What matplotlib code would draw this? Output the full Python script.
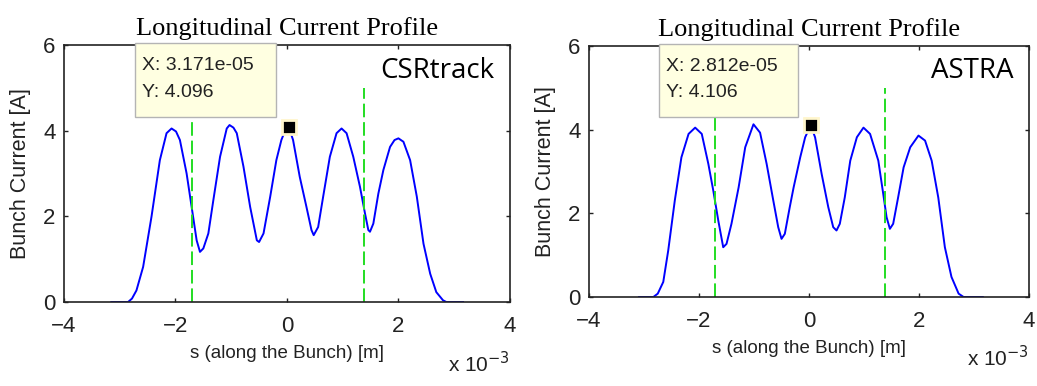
import numpy as np
import matplotlib.pyplot as plt
from matplotlib.patches import Rectangle

# ---- data (s in units of 1e-3 m, current in A) ----
s_csr = [-3.15, -2.85, -2.78, -2.70, -2.58, -2.43, -2.28, -2.16, -2.07, -1.99, -1.92, -1.80,
         -1.71, -1.62, -1.56, -1.50, -1.41, -1.32, -1.20, -1.08, -1.03, -0.96, -0.90, -0.78,
         -0.66, -0.54, -0.50, -0.42, -0.30, -0.19, -0.10, -0.04, 0.03, 0.11, 0.23, 0.35,
         0.44, 0.48, 0.56, 0.65, 0.77, 0.89, 0.98, 1.07, 1.19, 1.31, 1.40, 1.46, 1.49,
         1.55, 1.64, 1.73, 1.85, 1.93, 2.00, 2.09, 2.21, 2.33, 2.45, 2.57, 2.68, 2.80,
         2.86, 3.16]
i_csr = [0.0, 0.0, 0.08, 0.27, 0.82, 1.99, 3.31, 3.94, 4.05, 3.98, 3.78, 3.00,
         2.22, 1.44, 1.17, 1.25, 1.60, 2.38, 3.39, 4.05, 4.13, 4.07, 3.94, 3.16,
         2.22, 1.44, 1.40, 1.60, 2.46, 3.31, 3.78, 3.98, 4.096, 3.78, 2.92, 2.22,
         1.68, 1.56, 1.75, 2.46, 3.39, 3.94, 4.05, 3.94, 3.39, 2.69, 2.07, 1.68, 1.64,
         1.83, 2.53, 3.08, 3.62, 3.78, 3.82, 3.74, 3.31, 2.46, 1.36, 0.66, 0.23, 0.04,
         0.0, 0.0]

s_astra = [-3.09, -2.83, -2.75, -2.65, -2.56, -2.44, -2.32, -2.19, -2.07, -1.95, -1.83, -1.74,
           -1.65, -1.56, -1.50, -1.41, -1.28, -1.16, -1.01, -0.89, -0.77, -0.65, -0.56, -0.50,
           -0.44, -0.35, -0.28, -0.16, -0.07, 0.03, 0.11, 0.23, 0.35, 0.44, 0.50, 0.56,
           0.65, 0.75, 0.87, 0.99, 1.11, 1.26, 1.35, 1.41, 1.47, 1.53, 1.62, 1.72, 1.84,
           1.99, 2.11, 2.23, 2.35, 2.47, 2.59, 2.72, 2.81, 3.16]
i_astra = [0.0, 0.0, 0.08, 0.36, 1.11, 2.31, 3.34, 3.90, 4.05, 3.90, 3.18, 2.54,
           1.83, 1.19, 1.27, 1.75, 2.62, 3.58, 4.13, 3.93, 3.18, 2.31, 1.67, 1.39,
           1.51, 2.15, 2.62, 3.34, 3.82, 4.106, 3.82, 2.94, 2.15, 1.67, 1.59, 1.75,
           2.38, 3.26, 3.82, 4.05, 3.90, 3.26, 2.46, 1.91, 1.63, 1.75, 2.38, 3.10, 3.58,
           3.86, 3.74, 3.26, 2.38, 1.19, 0.48, 0.08, 0.0, 0.0]

cut_csr = [-1.70, 1.39]
cut_astra = [-1.71, 1.39]
tip_csr = (3.171e-05, 4.096)
tip_astra = (2.812e-05, 4.106)

panels = [
    ([0.0617, 0.2176, 0.430, 0.666], s_csr, i_csr, cut_csr, tip_csr, 'CSRtrack'),
    ([0.568, 0.2306, 0.4243, 0.650], s_astra, i_astra, cut_astra, tip_astra, 'ASTRA'),
]

fig = plt.figure(figsize=(10.37, 3.86), dpi=100)
sans = 'Liberation Sans'

for rect, s, cur, cuts, tip, name in panels:
    ax = fig.add_axes(rect)
    ax.plot(s, cur, color='#0000ff', lw=1.4)
    for c in cuts:
        ax.plot([c, c], [0, 5], color='#22dd22', lw=1.4, ls=(0, (7, 2.5)))

    # data tip marker and box
    ax.plot(tip[0] * 1e3, tip[1], marker='s', ms=10, color='black',
            mec='#fff6cc', mew=2, zorder=5)
    ax.add_patch(Rectangle((-2.73, 4.31), 2.53, 1.73, facecolor='#ffffe1',
                           edgecolor='#b4b4b4', lw=1.0, clip_on=False, zorder=6))
    ax.text(-2.6, 5.52, 'X: %.3e' % tip[0], fontsize=14, family=sans,
            color='#222222', va='center', zorder=7)
    ax.text(-2.6, 4.88, 'Y: %.3f' % tip[1], fontsize=14, family=sans,
            color='#222222', va='center', zorder=7)
    ax.text(3.72, 5.4, name, fontsize=20, family='Open Sans', ha='right',
            va='center', color='black')

    ax.set_xlim(-4, 4)
    ax.set_ylim(0, 6)
    ax.set_xticks([-4, -2, 0, 2, 4])
    ax.set_yticks([0, 2, 4, 6])
    ax.tick_params(direction='in', length=3, width=1, top=True, right=True,
                   labelsize=16, colors='#222222')
    ax.tick_params(axis='x', pad=10)
    ax.tick_params(axis='y', pad=6)
    for lab in ax.get_xticklabels() + ax.get_yticklabels():
        lab.set_family(sans)
    for sp in ax.spines.values():
        sp.set_linewidth(1.2)
        sp.set_color('#222222')
    ax.set_title('Longitudinal Current Profile', family='Liberation Serif',
                 fontsize=19, pad=7)
    ax.set_xlabel('s (along the Bunch) [m]', family=sans, fontsize=13.5,
                  labelpad=6, color='#222222')
    ax.set_ylabel('Bunch Current [A]', family=sans, fontsize=15.5,
                  labelpad=9, color='#222222')
    ax.text(1.0, -0.19, r'x 10$^{-3}$', transform=ax.transAxes, ha='right',
            va='top', family=sans, fontsize=15, color='#222222')

fig.savefig('out.png', dpi=100)
